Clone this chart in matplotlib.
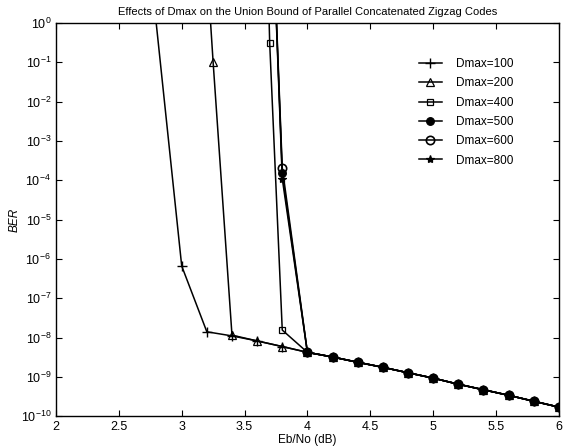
import matplotlib
matplotlib.use("Agg")
import matplotlib.pyplot as plt
import numpy as np

plt.rcParams['font.family'] = ['Liberation Sans', 'DejaVu Sans']

# common tail of all curves (Eb/No 4.0 .. 6.0 dB)
tail_x = [4.0, 4.2, 4.4, 4.6, 4.8, 5.0, 5.2, 5.4, 5.6, 5.8, 6.0]
tail_y = [4.2e-9, 3.2e-9, 2.35e-9, 1.75e-9, 1.27e-9, 9.3e-10,
          6.5e-10, 4.7e-10, 3.4e-10, 2.4e-10, 1.7e-10]

x_100 = [2.6, 3.0, 3.2, 3.4, 3.6, 3.8] + tail_x
y_100 = [1e6, 6.6e-7, 1.4e-8, 1.1e-8, 8.2e-9, 5.9e-9] + tail_y

x_200 = [3.2, 3.25, 3.4, 3.6, 3.8] + tail_x
y_200 = [30.0, 0.1, 1.15e-8, 8.2e-9, 5.9e-9] + tail_y

x_400 = [3.6, 3.7, 3.8] + tail_x
y_400 = [1e12, 0.31, 1.55e-8] + tail_y

x_500 = [3.7, 3.8] + tail_x
y_500 = [3e4, 1.5e-4] + tail_y

x_600 = [3.7, 3.8] + tail_x
y_600 = [3e4, 2.1e-4] + tail_y

x_800 = [3.7, 3.8] + tail_x
y_800 = [3e4, 1.1e-4] + tail_y

series = [
    ('Dmax=100', x_100, y_100, dict(marker='+', ms=7, mew=1.0)),
    ('Dmax=200', x_200, y_200, dict(marker='^', ms=6, mfc='none', mew=0.9)),
    ('Dmax=400', x_400, y_400, dict(marker='s', ms=5, mfc='none', mew=0.9)),
    ('Dmax=500', x_500, y_500, dict(marker='o', ms=5.5, mfc='k', mew=0.9)),
    ('Dmax=600', x_600, y_600, dict(marker='o', ms=6, mfc='none', mew=1.2)),
    ('Dmax=800', x_800, y_800, dict(marker='*', ms=6, mfc='k', mew=0.9)),
]

fig = plt.figure(figsize=(5.63, 4.47), dpi=100)
ax = fig.add_axes([0.0995, 0.069, 0.893, 0.8795])

for label, xs, ys, style in series:
    ax.semilogy(xs, ys, color='k', lw=1.1, label=label, **style)

ax.set_xlim(2, 6)
ax.set_ylim(1e-10, 1)
ax.set_xticks(np.arange(2, 6.01, 0.5))
ax.set_xticklabels(['2', '2.5', '3', '3.5', '4', '4.5', '5', '5.5', '6'])
ax.set_yticks([10.0 ** k for k in range(-10, 1)])
ax.tick_params(which='both', direction='in', top=True, right=True, labelsize=9)
ax.tick_params(which='major', length=4)
ax.tick_params(which='minor', length=2)
for s in ax.spines.values():
    s.set_linewidth(1.0)

ax.set_title('Effects of Dmax on the Union Bound of Parallel Concatenated Zigzag Codes',
             fontsize=8, pad=6)
ax.set_xlabel('Eb/No (dB)', fontsize=8.5, labelpad=1)
ax.set_ylabel('BER', fontsize=8.5, style='italic', labelpad=0)

ax.legend(loc='upper left', bbox_to_anchor=(0.70, 0.938), frameon=False,
          fontsize=8.5, handlelength=2.0, labelspacing=0.62, handletextpad=1.2)

fig.savefig('out.png', dpi=100)
